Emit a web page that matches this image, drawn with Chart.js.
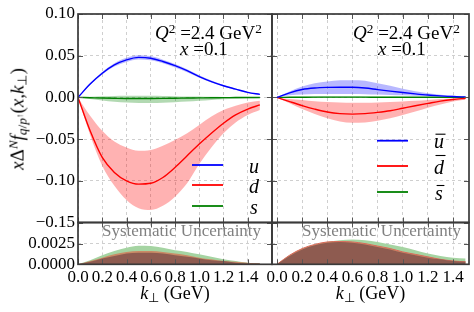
<!DOCTYPE html>
<html>
<head>
<meta charset="utf-8">
<script src="https://cdn.jsdelivr.net/npm/chart.js@4.4.0/dist/chart.umd.min.js"></script>
<style>
  html, body { margin: 0; padding: 0; background: #fff; }
  #wrap { position: relative; width: 474px; height: 312px; overflow: hidden; font-family: "Liberation Serif", serif; }
  #wrap canvas { position: absolute; left: 0; top: 0; }
  .t { position: absolute; white-space: nowrap; line-height: 1; color: #000; }
  .t sup { font-size: .7em; vertical-align: .45em; line-height: 0; }
  .t sub { font-size: .7em; vertical-align: -.25em; line-height: 0; }
  .sys { font-size: 17px; color: #808080; }
  .q { font-size: 19px; }
  .xt { font-size: 18px; transform: translateX(-50%); }
</style>
</head>
<body>
<div id="wrap">
  <canvas id="upL" width="474" height="312"></canvas>
  <canvas id="upR" width="474" height="312"></canvas>
  <canvas id="loL" width="474" height="312"></canvas>
  <canvas id="loR" width="474" height="312"></canvas>

  <div class="t" style="left:17px;top:119px;font-size:19px;transform:translate(-50%,-50%) rotate(-90deg);"><i>x</i>Δ<sup><i>N</i></sup><i>f</i><sub><i>q</i>/<i>p</i><sup>↑</sup></sub>(<i>x</i>,<i>k</i><sub>⊥</sub>)</div>

  <div class="t q" style="left:155px;top:22.6px"><i>Q</i><sup>2</sup> =2.4 GeV<sup>2</sup></div>
  <div class="t q" style="left:180px;top:39px"><i>x</i> =0.1</div>
  <div class="t q" style="left:353px;top:22.6px"><i>Q</i><sup>2</sup> =2.4 GeV<sup>2</sup></div>
  <div class="t q" style="left:378px;top:39px"><i>x</i> =0.1</div>

  <div class="t sys" style="left:102px;top:221.8px">Systematic Uncertainty</div>
  <div class="t sys" style="left:302px;top:221.8px">Systematic Uncertainty</div>

  <div class="t xt" style="left:175px;top:284px"><i>k</i><sub>⊥</sub> (GeV)</div>
  <div class="t xt" style="left:370.5px;top:284px"><i>k</i><sub>⊥</sub> (GeV)</div>
</div>

<script>
// k_perp grid (GeV)
const kT = [0, 0.1, 0.2, 0.3, 0.4, 0.5, 0.6, 0.7, 0.8, 0.9, 1.0, 1.1, 1.2, 1.3, 1.4, 1.5];

// quarks: central curve + band edges
const uMid = [0, 0.016, 0.029, 0.039, 0.045, 0.048, 0.047, 0.043, 0.038, 0.032, 0.025, 0.019, 0.014, 0.010, 0.006, 0.0036];
const uHi  = [0, 0.017, 0.0305, 0.041, 0.0475, 0.0505, 0.0495, 0.0452, 0.040, 0.0337, 0.0265, 0.0202, 0.015, 0.0108, 0.0066, 0.0041];
const uLo  = [0, 0.015, 0.0275, 0.037, 0.0425, 0.0455, 0.0445, 0.0408, 0.036, 0.0303, 0.0235, 0.0178, 0.013, 0.0092, 0.0054, 0.0031];

const dMid = [0, -0.040, -0.072, -0.090, -0.100, -0.104, -0.103, -0.096, -0.084, -0.070, -0.056, -0.043, -0.031, -0.021, -0.014, -0.009];
const dHi  = [0, -0.022, -0.040, -0.053, -0.060, -0.064, -0.063, -0.058, -0.051, -0.043, -0.033, -0.023, -0.015, -0.010, -0.006, -0.004];
const dLo  = [0, -0.045, -0.082, -0.106, -0.123, -0.133, -0.135, -0.130, -0.119, -0.103, -0.080, -0.060, -0.043, -0.030, -0.021, -0.015];

const sMid = [0, -0.0004, -0.0008, -0.0011, -0.0013, -0.0013, -0.0013, -0.0012, -0.001, -0.0008, -0.0006, -0.0004, -0.0003, -0.0002, -0.0001, -0.0001];
const sHi  = [0, 0.0008, 0.0014, 0.0018, 0.002, 0.002, 0.002, 0.0018, 0.0015, 0.0012, 0.001, 0.0007, 0.0005, 0.0003, 0.0002, 0.0001];
const sLo  = [0, -0.002, -0.0038, -0.0052, -0.0062, -0.0067, -0.0068, -0.0065, -0.0058, -0.005, -0.004, -0.003, -0.0022, -0.0015, -0.001, -0.0006];

// antiquarks
const ubMid = [0, 0.0055, 0.0095, 0.0113, 0.012, 0.0122, 0.0121, 0.0112, 0.0093, 0.0075, 0.0058, 0.0042, 0.0028, 0.0018, 0.001, 0.0005];
const ubHi  = [0, 0.007, 0.013, 0.017, 0.019, 0.0205, 0.0207, 0.020, 0.017, 0.014, 0.0105, 0.0075, 0.005, 0.0032, 0.0019, 0.001];
const ubLo  = [0, 0.0025, 0.0035, 0.004, 0.004, 0.004, 0.004, 0.0038, 0.0034, 0.003, 0.0025, 0.0019, 0.0013, 0.0009, 0.0005, 0.0003];

const dbMid = [0, -0.005, -0.0098, -0.014, -0.0175, -0.0195, -0.020, -0.0195, -0.018, -0.016, -0.013, -0.010, -0.0072, -0.0045, -0.0025, -0.001];
const dbHi  = [0, -0.002, -0.003, -0.0045, -0.0055, -0.006, -0.0065, -0.0065, -0.006, -0.0055, -0.0048, -0.004, -0.003, -0.002, -0.0012, -0.0005];
const dbLo  = [0, -0.007, -0.014, -0.020, -0.025, -0.029, -0.0305, -0.030, -0.028, -0.025, -0.021, -0.017, -0.0125, -0.0085, -0.005, -0.0025];

const sbMid = [0, 0.0001, 0.0002, 0.0003, 0.0003, 0.0003, 0.0003, 0.0003, 0.0002, 0.0002, 0.0002, 0.0001, 0.0001, 0.0001, 0, 0];
const sbHi  = [0, 0.0004, 0.0007, 0.0009, 0.001, 0.001, 0.001, 0.0009, 0.0008, 0.0007, 0.0006, 0.0005, 0.0004, 0.0003, 0.0002, 0.0001];
const sbLo  = [0, -0.0002, -0.0003, -0.0003, -0.0004, -0.0004, -0.0004, -0.0003, -0.0003, -0.0003, -0.0002, -0.0002, -0.0002, -0.0001, -0.0001, 0];

// systematic uncertainty
const sysU = [0, 0.0003, 0.0007, 0.001, 0.0013, 0.0014, 0.0014, 0.0013, 0.0011, 0.0009, 0.0007, 0.0005, 0.0004, 0.0002, 0.0001, 0.0001];
const sysD = [0, 0.0004, 0.0008, 0.0012, 0.0015, 0.0016, 0.0016, 0.0015, 0.0013, 0.0011, 0.0008, 0.0006, 0.0004, 0.0003, 0.0002, 0.0001];
const sysS = [0, 0.0005, 0.0011, 0.0016, 0.002, 0.00223, 0.0022, 0.002, 0.0017, 0.0015, 0.0012, 0.0009, 0.0006, 0.0004, 0.0002, 0.0001];

const sysUb = [0, 0.001, 0.0018, 0.0023, 0.0026, 0.0027, 0.0026, 0.0024, 0.0021, 0.0018, 0.0014, 0.0011, 0.0008, 0.0006, 0.0004, 0.0003];
const sysDb = [0, 0.0011, 0.0019, 0.0024, 0.0027, 0.00275, 0.0027, 0.0025, 0.0022, 0.0019, 0.0015, 0.0012, 0.0009, 0.0006, 0.0004, 0.0003];
const sysSb = [0, 0.001, 0.0018, 0.0023, 0.0027, 0.0029, 0.003, 0.0029, 0.0027, 0.0024, 0.0021, 0.0017, 0.0013, 0.001, 0.0008, 0.0007];

// ticks
const xTicks = [0, 0.2, 0.4, 0.6, 0.8, 1.0, 1.2, 1.4];
const yTicksTop = [-0.15, -0.10, -0.05, 0.00, 0.05, 0.10];
const yTicksSys = [0, 0.0025];

const BLUE = '#0000ff', RED = '#ff0000', GREEN = '#008000';
const tickFont = { family: 'Liberation Serif', size: 17 };

Chart.defaults.font.family = 'Liberation Serif';

const pts = ys => kT.map((k, i) => ({ x: k, y: ys[i] }));

function fmt(v, d) {
  return (v < -1e-12 ? '\u2212' : '') + Math.abs(v).toFixed(d);
}

// line + shaded band (hi fills down to lo)
function flavour(mid, hi, lo, color, band) {
  return [
    { data: pts(mid), borderColor: color, borderWidth: 1.4, order: 0 },
    { data: pts(hi), borderWidth: 0, borderColor: 'transparent', backgroundColor: band, fill: '+1', order: 1 },
    { data: pts(lo), borderWidth: 0, borderColor: 'transparent', fill: false, order: 1 }
  ];
}

function sysArea(ys, color, edge) {
  return { data: pts(ys), backgroundColor: color, borderColor: edge || 'transparent', borderWidth: edge ? 1 : 0, fill: 'origin' };
}

// spines + inward tick marks
const frame = {
  id: 'frame',
  afterDatasetsDraw(chart) {
    const { ctx, chartArea: a, scales } = chart;
    ctx.save();
    ctx.strokeStyle = '#555';
    ctx.lineWidth = 1;
    scales.x.ticks.forEach(t => {
      const px = Math.round(scales.x.getPixelForValue(t.value)) + 0.5;
      ctx.beginPath();
      ctx.moveTo(px, a.bottom); ctx.lineTo(px, a.bottom - 5);
      ctx.moveTo(px, a.top); ctx.lineTo(px, a.top + 5);
      ctx.stroke();
    });
    scales.y.ticks.forEach(t => {
      const py = Math.round(scales.y.getPixelForValue(t.value)) + 0.5;
      ctx.beginPath();
      ctx.moveTo(a.left, py); ctx.lineTo(a.left + 5, py);
      ctx.moveTo(a.right, py); ctx.lineTo(a.right - 5, py);
      ctx.stroke();
    });
    ctx.strokeStyle = '#3a3a3a';
    ctx.lineWidth = 1.7;
    ctx.strokeRect(a.left, a.top, a.right - a.left, a.bottom - a.top);
    ctx.restore();
  }
};

// legend box drawn inside the plot
const innerLegend = {
  id: 'innerLegend',
  afterDatasetsDraw(chart, args, opts) {
    if (!opts.items) return;
    const { ctx, chartArea: a } = chart;
    ctx.save();
    ctx.font = 'italic 20px "Liberation Serif"';
    ctx.textAlign = 'center';
    ctx.textBaseline = 'alphabetic';
    opts.items.forEach((it, i) => {
      const ds = chart.data.datasets[it.ds];
      const y = a.top + opts.ys[i];
      ctx.strokeStyle = ds.borderColor;
      ctx.lineWidth = 1.8;
      ctx.beginPath();
      ctx.moveTo(a.left + opts.x1, y);
      ctx.lineTo(a.left + opts.x2, y);
      ctx.stroke();
      const tx = a.left + opts.tx;
      const base = y + 7.5;
      ctx.fillStyle = '#000';
      ctx.fillText(it.text, tx, base);
      if (it.bar) {
        const m = ctx.measureText(it.text);
        const by = base - m.actualBoundingBoxAscent - 4;
        ctx.strokeStyle = '#000';
        ctx.lineWidth = 1.1;
        ctx.beginPath();
        ctx.moveTo(tx - m.width / 2 + 1.5, by);
        ctx.lineTo(tx + m.width / 2 + 1.5, by);
        ctx.stroke();
      }
    });
    ctx.restore();
  }
};

// pad: outer padding; yW / xH: fixed axis box sizes (tick labels live there)
function makeChart(id, datasets, pad, yW, xH, xr, showX, yr, yTicks, yDec, showY, legend) {
  return new Chart(document.getElementById(id), {
    type: 'line',
    data: { datasets },
    plugins: [frame, innerLegend],
    options: {
      responsive: false,
      animation: false,
      events: [],
      layout: { padding: pad },
      elements: {
        point: { radius: 0 },
        line: { cubicInterpolationMode: 'monotone' }
      },
      scales: {
        x: {
          type: 'linear', min: xr[0], max: xr[1],
          afterBuildTicks: s => { s.ticks = xTicks.map(v => ({ value: v })); },
          afterFit: s => { s.height = xH; },
          grid: { color: '#cfcfcf', lineWidth: 1, drawTicks: false },
          border: { display: false, dash: [3, 3] },
          ticks: { display: showX, autoSkip: false, maxRotation: 0, padding: 3, font: tickFont, color: '#000', callback: v => v.toFixed(1) }
        },
        y: {
          type: 'linear', min: yr[0], max: yr[1],
          afterBuildTicks: s => { s.ticks = yTicks.map(v => ({ value: v })); },
          afterFit: s => { s.width = yW; },
          grid: { color: '#cfcfcf', lineWidth: 1, drawTicks: false },
          border: { display: false, dash: [3, 3] },
          ticks: { display: showY, autoSkip: false, padding: 3, font: tickFont, color: '#000', callback: v => fmt(v, yDec) }
        }
      },
      plugins: {
        legend: { display: false },
        tooltip: { enabled: false },
        innerLegend: legend || {}
      }
    }
  });
}

const topRange = [-0.15, 0.10];
const sysRange = [0, 0.00505];
const xLeft = [0, 1.6];
const xRight = [-0.04, 1.527];

makeChart('upL',
  [].concat(
    flavour(uMid, uHi, uLo, BLUE, 'rgba(0,0,255,0.28)'),
    flavour(dMid, dHi, dLo, RED, 'rgba(255,0,0,0.3)'),
    flavour(sMid, sHi, sLo, GREEN, 'rgba(0,128,0,0.3)')
  ),
  { left: 0, right: 202, top: 14, bottom: 89.5 }, 78, 0, xLeft, false, topRange, yTicksTop, 2, true,
  { items: [{ ds: 0, text: 'u' }, { ds: 3, text: 'd' }, { ds: 6, text: 's' }], x1: 114, x2: 145, tx: 176, ys: [151, 171, 192] });

makeChart('upR',
  [].concat(
    flavour(ubMid, ubHi, ubLo, BLUE, 'rgba(0,0,255,0.28)'),
    flavour(dbMid, dbHi, dbLo, RED, 'rgba(255,0,0,0.3)'),
    flavour(sbMid, sbHi, sbLo, GREEN, 'rgba(0,128,0,0.3)')
  ),
  { left: 272, right: 5, top: 14, bottom: 89.5 }, 0, 0, xRight, false, topRange, yTicksTop, 2, false,
  { items: [{ ds: 0, text: 'u', bar: true }, { ds: 3, text: 'd', bar: true }, { ds: 6, text: 's', bar: true }], x1: 105, x2: 136, tx: 167, ys: [126.7, 152, 178] });

makeChart('loL',
  [sysArea(sysU, '#8e5b50'), sysArea(sysD, '#c98a66'), sysArea(sysS, '#a5d4a2')],
  { left: 0, right: 202, top: 222.5, bottom: 0 }, 78, 47.7, xLeft, true, sysRange, yTicksSys, 4, true);

makeChart('loR',
  [sysArea(sysUb, '#8e5b50'), sysArea(sysDb, '#c98a66', '#d86a5a'), sysArea(sysSb, '#a5d4a2')],
  { left: 272, right: 5, top: 222.5, bottom: 0 }, 0, 47.7, xRight, true, sysRange, yTicksSys, 4, false);
</script>
</body>
</html>
